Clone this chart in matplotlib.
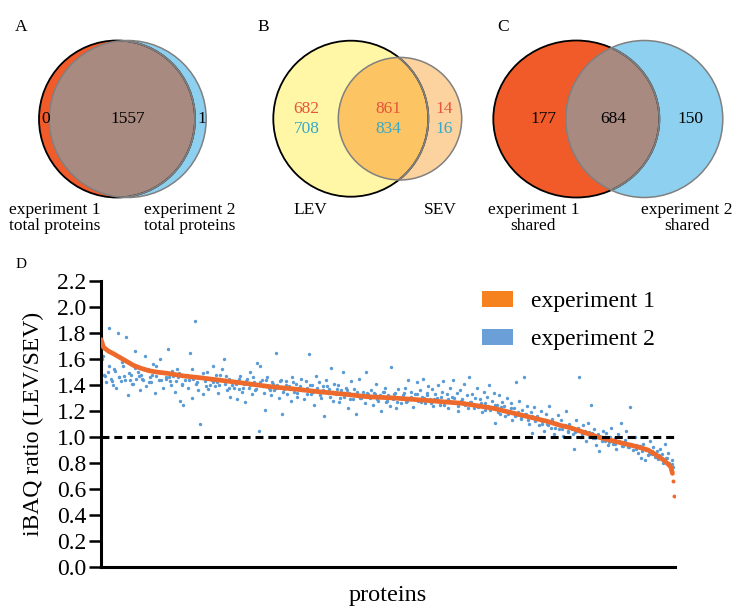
import numpy as np
import matplotlib
matplotlib.use("Agg")
import matplotlib.pyplot as plt
from matplotlib.patches import Ellipse, Patch

plt.rcParams['font.family'] = ['Liberation Serif', 'DejaVu Serif']

# Venn counts
venn_a = [0, 1557, 1]
venn_b_exp1 = [682, 861, 14]
venn_b_exp2 = [708, 834, 16]
venn_c = [177, 684, 150]

# Panel D: experiment 1 sorted ratios (rank, ratio)
exp1_rank = [1, 4, 10, 16, 24, 32, 40, 48, 58, 67, 80, 99, 120, 139, 170, 199,
             230, 258, 290, 318, 350, 382, 410, 430, 450, 469, 485, 501, 517,
             533, 548, 561, 577, 593, 608, 624, 640, 653, 663, 672, 677, 680, 682]
exp1_ratio = [1.75, 1.69, 1.66, 1.64, 1.61, 1.58, 1.55, 1.53, 1.51, 1.50, 1.49,
              1.47, 1.455, 1.44, 1.415, 1.39, 1.37, 1.35, 1.33, 1.31, 1.30, 1.285,
              1.27, 1.26, 1.24, 1.22, 1.195, 1.17, 1.145, 1.12, 1.09, 1.07, 1.035,
              1.00, 0.975, 0.95, 0.925, 0.90, 0.86, 0.82, 0.79, 0.77, 0.72]
exp1_tail_rank = [683, 684]
exp1_tail_ratio = [0.66, 0.55]

# experiment 2 ratios at odd ranks (1, 3, 5, ...)
exp2_ratio = [
    1.78, 1.62, 1.48, 1.42, 1.50, 1.84, 1.45, 1.40, 1.52, 1.38, 1.80, 1.46, 1.43, 1.55, 1.47, 1.77, 1.32, 1.44, 1.48, 1.41,
    1.66, 1.45, 1.50, 1.36, 1.48, 1.44, 1.62, 1.39, 1.52, 1.46, 1.42, 1.56, 1.34, 1.47, 1.50, 1.60, 1.44, 1.38, 1.49, 1.45,
    1.68, 1.43, 1.40, 1.47, 1.35, 1.52, 1.46, 1.28, 1.41, 1.25, 1.44, 1.48, 1.38, 1.65, 1.30, 1.45, 1.89, 1.42, 1.36, 1.10,
    1.46, 1.33, 1.43, 1.50, 1.37, 1.40, 1.44, 1.55, 1.39, 1.42, 1.34, 1.48, 1.52, 1.60, 1.41, 1.36, 1.45, 1.31, 1.40, 1.38,
    1.43, 1.29, 1.37, 1.47, 1.35, 1.41, 1.27, 1.45, 1.38, 1.50, 1.33, 1.42, 1.36, 1.57, 1.05, 1.55, 1.44, 1.34, 1.21, 1.46,
    1.38, 1.32, 1.42, 1.36, 1.65, 1.40, 1.30, 1.44, 1.18, 1.37, 1.43, 1.33, 1.39, 1.28, 1.46, 1.35, 1.41, 1.31, 1.38, 1.45,
    1.36, 1.29, 1.43, 1.38, 1.64, 1.33, 1.40, 1.25, 1.47, 1.35, 1.42, 1.30, 1.39, 1.16, 1.44, 1.34, 1.37, 1.53, 1.28, 1.41,
    1.33, 1.40, 1.27, 1.36, 1.50, 1.31, 1.38, 1.22, 1.34, 1.43, 1.29, 1.37, 1.18, 1.32, 1.45, 1.30, 1.35, 1.26, 1.50, 1.33,
    1.30, 1.36, 1.25, 1.33, 1.41, 1.28, 1.31, 1.20, 1.35, 1.38, 1.27, 1.32, 1.24, 1.54, 1.29, 1.34, 1.22, 1.37, 1.30, 1.26,
    1.32, 1.38, 1.27, 1.44, 1.30, 1.35, 1.23, 1.33, 1.42, 1.28, 1.36, 1.31, 1.45, 1.26, 1.34, 1.39, 1.29, 1.37, 1.24, 1.33,
    1.30, 1.40, 1.25, 1.35, 1.43, 1.28, 1.33, 1.22, 1.38, 1.31, 1.44, 1.27, 1.34, 1.20, 1.36, 1.29, 1.41, 1.25, 1.32, 1.46,
    1.27, 1.33, 1.22, 1.30, 1.38, 1.24, 1.29, 1.19, 1.35, 1.26, 1.31, 1.40, 1.21, 1.28, 1.34, 1.11, 1.25, 1.32, 1.18, 1.27,
    1.24, 1.16, 1.30, 1.20, 1.26, 1.13, 1.22, 1.42, 1.17, 1.28, 1.14, 1.21, 1.46, 1.18, 1.24, 1.10, 1.19, 1.03, 1.23, 1.15,
    1.16, 1.09, 1.20, 1.12, 1.05, 1.18, 1.10, 1.24, 1.07, 1.14, 1.02, 1.11, 1.17, 1.06, 1.13, 1.01, 1.09, 1.20, 1.04, 1.10,
    1.08, 1.02, 0.91, 1.13, 1.05, 1.46, 1.00, 1.09, 1.03, 0.97, 1.11, 1.04, 1.25, 0.99, 1.06, 0.94, 1.02, 0.89, 1.00, 1.05,
    0.97, 1.03, 0.94, 1.00, 1.07, 0.95, 0.99, 0.91, 1.02, 0.96, 1.11, 0.93, 0.98, 1.05, 0.92, 1.23, 0.95, 0.90, 1.00, 0.94,
    0.88, 0.93, 0.84, 0.95, 0.82, 0.90, 0.86, 0.97, 0.87, 0.92, 0.85, 0.89, 0.83, 0.91, 0.87, 0.80, 0.95, 0.84, 0.88, 0.78,
    0.82, 0.77,
]
exp2_rank = np.arange(1, 2 * len(exp2_ratio), 2)

# experiment 2 ratios at ranks 2, 6, 10, ... (values near the exp 1 curve)
exp2_ratio_b = [
    1.60, 1.47, 1.55, 1.43, 1.51, 1.46, 1.58, 1.44, 1.49, 1.41, 1.53, 1.47, 1.45, 1.52, 1.42, 1.48, 1.55, 1.44, 1.50, 1.46,
    1.46, 1.51, 1.43, 1.49, 1.40, 1.47, 1.44, 1.52, 1.41, 1.46, 1.49, 1.39, 1.45, 1.42, 1.48, 1.40, 1.44, 1.47, 1.38, 1.43,
    1.41, 1.45, 1.38, 1.43, 1.40, 1.46, 1.37, 1.42, 1.39, 1.44, 1.36, 1.41, 1.38, 1.43, 1.35, 1.40, 1.37, 1.42, 1.34, 1.39,
    1.37, 1.33, 1.40, 1.35, 1.38, 1.32, 1.36, 1.39, 1.31, 1.35, 1.37, 1.30, 1.34, 1.36, 1.29, 1.33, 1.35, 1.30, 1.32, 1.34,
    1.31, 1.34, 1.29, 1.32, 1.35, 1.28, 1.31, 1.33, 1.27, 1.30, 1.34, 1.28, 1.31, 1.29, 1.33, 1.27, 1.30, 1.32, 1.26, 1.29,
    1.28, 1.31, 1.25, 1.29, 1.27, 1.30, 1.24, 1.28, 1.26, 1.22, 1.27, 1.25, 1.23, 1.26, 1.21, 1.24, 1.22, 1.25, 1.19, 1.23,
    1.21, 1.18, 1.22, 1.16, 1.19, 1.15, 1.18, 1.13, 1.16, 1.12, 1.15, 1.10, 1.13, 1.09, 1.12, 1.07, 1.10, 1.06, 1.09, 1.05,
    1.06, 1.04, 1.07, 1.02, 1.05, 1.00, 1.03, 0.99, 1.01, 0.97, 1.00, 0.96, 0.98, 0.95, 0.97, 0.93, 0.96, 0.92, 0.94, 0.91,
    0.93, 0.89, 0.91, 0.87, 0.89, 0.85, 0.86, 0.83, 0.84, 0.80, 0.79,
]
exp2_rank_b = np.arange(2, 2 + 4 * len(exp2_ratio_b), 4)

ORANGE = '#F15A29'
SKY = '#8DD0F0'
BROWN = '#A88A80'

fig = plt.figure(figsize=(7.39, 6.14), dpi=100)

# Venn panels drawn in pixel space
av = fig.add_axes([0, 0, 1, 1])
av.set_xlim(0, 739)
av.set_ylim(614, 0)
av.axis('off')


def two_sets(ax, left, right, fc_left, fc_right, fc_mid):
    p1 = Ellipse(left[:2], left[2], left[3], fc=fc_left, ec='none')
    p2 = Ellipse(right[:2], right[2], right[3], fc=fc_right, ec='none')
    ax.add_patch(p1)
    ax.add_patch(p2)
    mid = Ellipse(left[:2], left[2], left[3], fc=fc_mid, ec='none')
    ax.add_patch(mid)
    mid.set_clip_path(p2)
    ax.add_patch(Ellipse(left[:2], left[2], left[3], fc='none', ec='black', lw=1.3))
    ax.add_patch(Ellipse(right[:2], right[2], right[3], fc='none', ec='#808080', lw=1.1))
    inner = Ellipse(left[:2], left[2], left[3], fc='none', ec='#808080', lw=1.3)
    ax.add_patch(inner)
    inner.set_clip_path(p2)


fs = 12.5
# A
two_sets(av, (117, 119, 156, 157), (127.7, 119, 157, 157), ORANGE, SKY, BROWN)
av.text(46, 119, str(venn_a[0]), ha='center', va='center', fontsize=fs)
av.text(128, 119, str(venn_a[1]), ha='center', va='center', fontsize=fs)
av.text(202, 119, str(venn_a[2]), ha='center', va='center', fontsize=fs)
av.text(55, 218, 'experiment 1\ntotal proteins', ha='center', va='center', fontsize=fs, linespacing=1.0)
av.text(190, 218, 'experiment 2\ntotal proteins', ha='center', va='center', fontsize=fs, linespacing=1.0)
av.text(15, 27, 'A', ha='left', va='center', fontsize=fs)

# B
two_sets(av, (350.8, 118.7, 155, 156), (400, 118.7, 123.4, 122.6), '#FFF7A6', '#FCD29E', '#FCC463')
red_t = '#E8553A'
blue_t = '#35A9C9'
for x, a, b in zip([306.7, 388.3, 444], venn_b_exp1, venn_b_exp2):
    av.text(x, 109, str(a), ha='center', va='center', fontsize=fs, color=red_t)
    av.text(x, 129, str(b), ha='center', va='center', fontsize=fs, color=blue_t)
av.text(310.7, 210, 'LEV', ha='center', va='center', fontsize=fs)
av.text(440, 210, 'SEV', ha='center', va='center', fontsize=fs)
av.text(257, 27, 'B', ha='left', va='center', fontsize=fs)

# C
two_sets(av, (576.3, 119, 166, 157), (644.3, 119, 157, 157), ORANGE, SKY, BROWN)
for x, v in zip([543, 613.3, 690], venn_c):
    av.text(x, 119, str(v), ha='center', va='center', fontsize=fs)
av.text(533.3, 218, 'experiment 1\nshared', ha='center', va='center', fontsize=fs, linespacing=1.0)
av.text(686.7, 218, 'experiment 2\nshared', ha='center', va='center', fontsize=fs, linespacing=1.0)
av.text(497, 27, 'C', ha='left', va='center', fontsize=fs)

av.text(16, 265, 'D', ha='left', va='center', fontsize=11)

# Panel D
ax = fig.add_axes([101 / 739, 1 - 567 / 614, 574 / 739, 286 / 614])
ax.patch.set_alpha(0)
ax.scatter(exp2_rank, exp2_ratio, s=6, color='#5B9BD5', linewidths=0, zorder=2)
ax.scatter(exp2_rank_b, exp2_ratio_b, s=6, color='#5B9BD5', linewidths=0, zorder=2)
ax.plot(exp1_rank, exp1_ratio, color='#EE6A2C', lw=3.4, solid_capstyle='round', zorder=3)
ax.scatter(exp1_tail_rank, exp1_tail_ratio, s=8, color='#EE6A2C', linewidths=0, zorder=3)
ax.axhline(1.0, color='black', lw=2.2, dashes=(2.6, 1.6), zorder=4)

ax.set_xlim(1, 685)
ax.set_ylim(0, 2.2)
ticks = np.arange(0, 2.21, 0.2)
ax.set_yticks(ticks)
ax.set_yticklabels([f'{v:.1f}' for v in ticks], fontsize=17)
ax.set_xticks([])
for s in ['top', 'right']:
    ax.spines[s].set_visible(False)
for s in ['left', 'bottom']:
    ax.spines[s].set_linewidth(2.2)
ax.tick_params(axis='y', length=8.5, width=1.8, pad=2)
ax.set_ylabel('iBAQ ratio (LEV/SEV)', fontsize=17, labelpad=9)
ax.set_xlabel('proteins', fontsize=17.5, labelpad=13)

handles = [Patch(facecolor='#F5821F', edgecolor='none', label='experiment 1'),
           Patch(facecolor='#6A9FD8', edgecolor='none', label='experiment 2')]
ax.legend(handles=handles, loc='upper left', bbox_to_anchor=(0.664, 0.965), frameon=False,
          fontsize=17, handlelength=1.31, handleheight=0.64, handletextpad=0.76,
          labelspacing=0.72, borderpad=0, borderaxespad=0)

plt.savefig('out.png', dpi=100)
plt.close()
